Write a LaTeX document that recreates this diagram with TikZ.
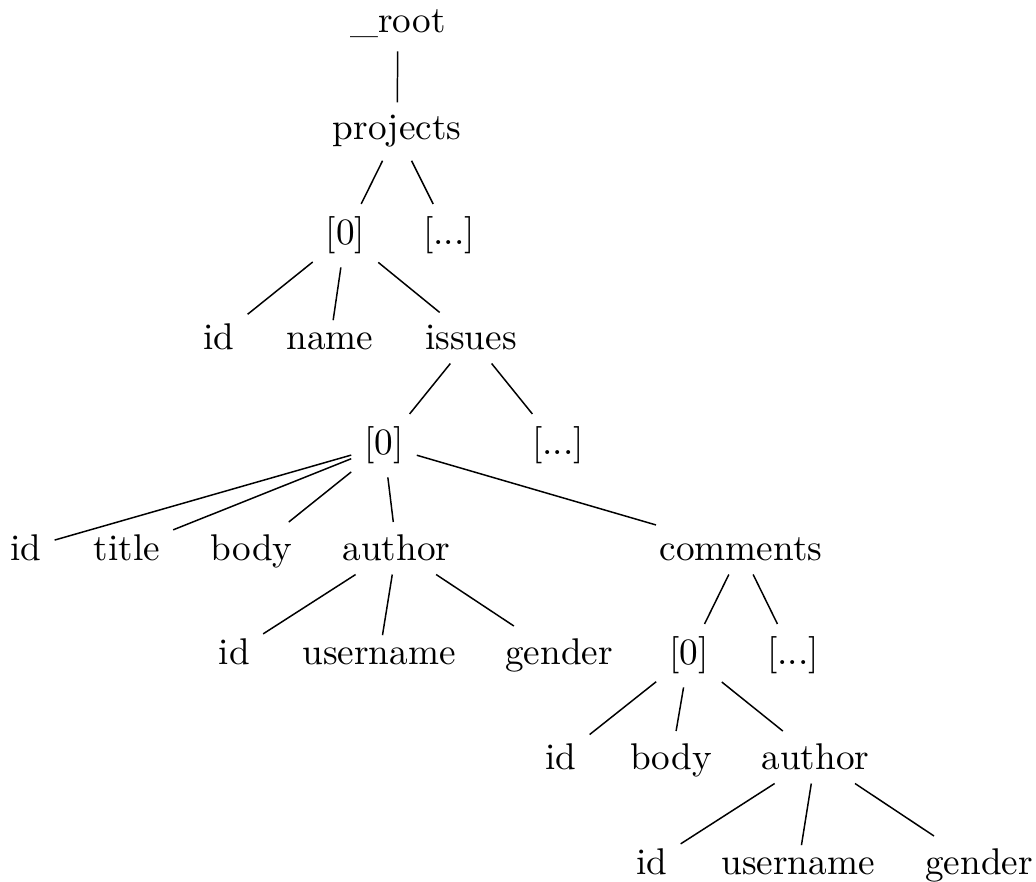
\documentclass[tikz,border=0pt]{standalone}
\begin{document}
\begin{tikzpicture}[x=0.2688pt, y=-0.2688pt,
  key/.style={anchor=base, inner sep=0.3333em},
  link/.style={line width=0.4pt}]
\useasboundingbox (0,0) rectangle (1036,882);
% level 0 and 1
\node[key] (root) at (398,33) {\_root};
\node[key] (proj) at (397,140) {projects};
% projects array
\node[key] (p0) at (345.5,245) {[0]};
\node[key] (pdots) at (449,245) {[...]};
% project fields
\node[key] (pid) at (219,350) {id};
\node[key] (pname) at (330,350) {name};
\node[key] (issues) at (471,350) {issues};
% issues array
\node[key] (i0) at (384,455) {[0]};
\node[key] (idots) at (558,455) {[...]};
% issue fields
\node[key] (iid) at (26,561) {id};
\node[key] (ititle) at (127,561) {title};
\node[key] (ibody) at (251.5,561) {body};
\node[key] (iauth) at (396.5,561) {author};
\node[key] (comments) at (741,561) {comments};
% issue author fields and comments array
\node[key] (aid) at (234.5,665) {id};
\node[key] (auser) at (379,665) {username};
\node[key] (agender) at (559,665) {gender};
\node[key] (c0) at (689,665) {[0]};
\node[key] (cdots) at (793,665) {[...]};
% comment fields
\node[key] (cid) at (561,770) {id};
\node[key] (cbody) at (671,770) {body};
\node[key] (cauth) at (815.5,770) {author};
% comment author fields
\node[key] (caid) at (652,875) {id};
\node[key] (causer) at (798,875) {username};
\node[key] (cagender) at (979,875) {gender};
% connectors
\draw[link] (root) -- (proj);
\draw[link] (proj) -- (p0);
\draw[link] (proj) -- (pdots);
\draw[link] (p0) -- (pid);
\draw[link] (p0) -- (pname);
\draw[link] (p0) -- (issues);
\draw[link] (issues) -- (i0);
\draw[link] (issues) -- (idots);
\draw[link] (i0) -- (iid);
\draw[link] (i0) -- (ititle);
\draw[link] (i0) -- (ibody);
\draw[link] (i0) -- (iauth);
\draw[link] (i0) -- (comments);
\draw[link] (iauth) -- (aid);
\draw[link] (iauth) -- (auser);
\draw[link] (iauth) -- (agender);
\draw[link] (comments) -- (c0);
\draw[link] (comments) -- (cdots);
\draw[link] (c0) -- (cid);
\draw[link] (c0) -- (cbody);
\draw[link] (c0) -- (cauth);
\draw[link] (cauth) -- (caid);
\draw[link] (cauth) -- (causer);
\draw[link] (cauth) -- (cagender);
\end{tikzpicture}
\end{document}
